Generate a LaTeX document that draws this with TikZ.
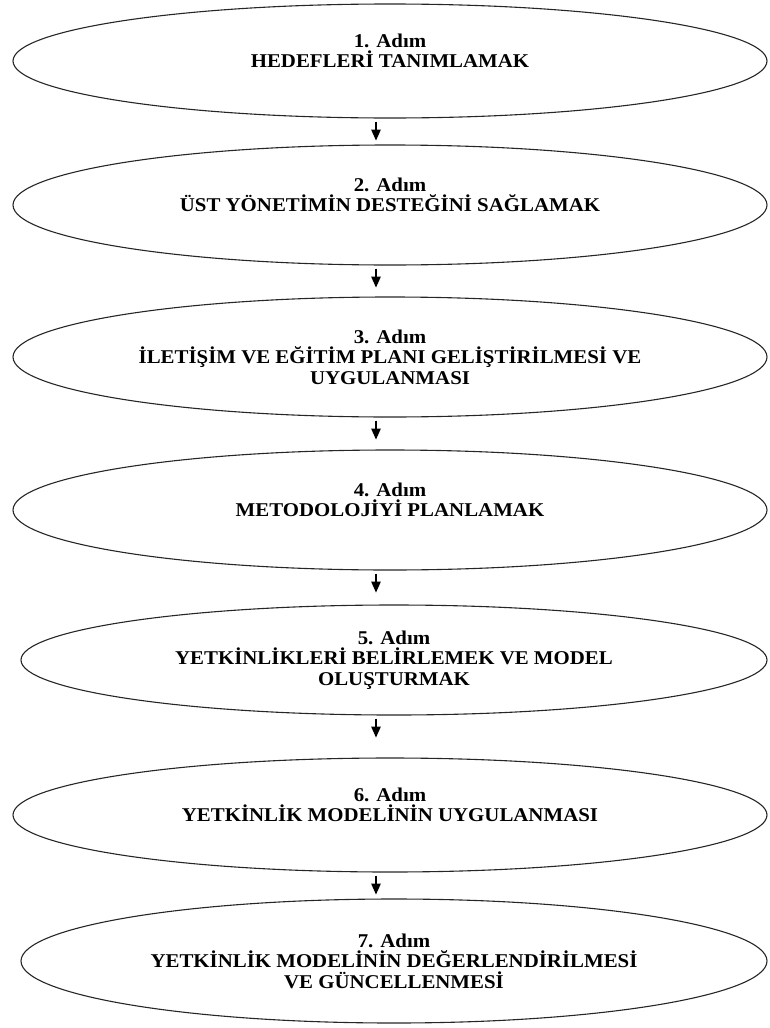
\documentclass[tikz,border=0pt]{standalone}
\usepackage{fontspec}
\setmainfont{Liberation Serif}[FakeStretch=1.07]
\usetikzlibrary{shapes.geometric,arrows.meta}
% bold step captions with fixed line pitch
\newcommand\stepcaptionfont{\bfseries\fontsize{19.5}{20.5}\selectfont
  \lineskiplimit=-100pt\relax}
\tikzset{
  stepellipse/.style={ellipse, draw=black!85, line width=1.1pt, inner sep=0pt,
    align=center, text=black, font=\stepcaptionfont,
    minimum width=754pt},
  narrowellipse/.style={stepellipse, minimum width=746pt},
  flowarrow/.style={draw=black, line width=1.2pt,
    -{Triangle[length=11pt,width=9.5pt]}, shorten <=3pt}
}
\begin{document}
\begin{tikzpicture}[x=1pt,y=-1pt]
\useasboundingbox (0,0) rectangle (769,1028);
% column on which the arrows run
\coordinate (ax) at (376,0);

\node[stepellipse, minimum height=114pt] (s1) at (390,61)
  {1. Adım\\HEDEFLERİ TANIMLAMAK\\\mbox{}};
\node[stepellipse, minimum height=120pt] (s2) at (390,205)
  {2. Adım\\ÜST YÖNETİMİN DESTEĞİNİ SAĞLAMAK\\\mbox{}};
\node[stepellipse, minimum height=120pt] (s3) at (390,357)
  {3. Adım\\İLETİŞİM VE EĞİTİM PLANI GELİŞTİRİLMESİ VE\\UYGULANMASI};
\node[stepellipse, minimum height=120pt] (s4) at (390,510)
  {4. Adım\\METODOLOJİYİ PLANLAMAK\\\mbox{}};
\node[narrowellipse, minimum height=110pt] (s5) at (394,660)
  {5. Adım\\YETKİNLİKLERİ BELİRLEMEK VE MODEL\\OLUŞTURMAK};
\node[stepellipse, minimum height=114pt] (s6) at (390,815)
  {6. Adım\\YETKİNLİK MODELİNİN UYGULANMASI\\\mbox{}};
\node[narrowellipse, minimum height=124pt] (s7) at (394,961)
  {7. Adım\\YETKİNLİK MODELİNİN DEĞERLENDİRİLMESİ\\VE GÜNCELLENMESİ};

% short arrows hanging below each step
\foreach \a in {s1, s2, s3, s4, s5, s6} {
  \path (\a.south -| ax) ++(0,22) coordinate (\a-tip);
  \draw[flowarrow] (\a.south -| ax) -- (\a-tip);
}
\end{tikzpicture}
\end{document}
